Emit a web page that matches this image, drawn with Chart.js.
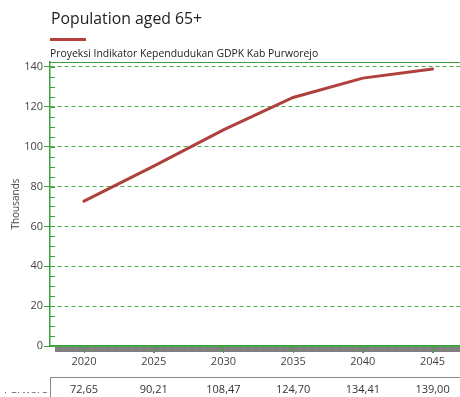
<!DOCTYPE html>
<html><head><meta charset="utf-8">
<script src="https://cdn.jsdelivr.net/npm/chart.js@4.4.1/dist/chart.umd.min.js"></script>
<style>
html,body{margin:0;padding:0;background:#fff;width:460px;height:397px;overflow:hidden;font-family:"Open Sans",sans-serif;}
#wrap{position:absolute;left:0;top:0;width:460px;height:397px;}
.t{position:absolute;white-space:nowrap;color:#333;}
</style></head>
<body>
<div id="wrap">
<canvas id="c" width="460" height="397"></canvas>
<div class="t" id="title" style="left:51px;top:7px;font-size:15.8px;color:#222;">Population aged 65+</div>
<div style="position:absolute;left:50px;top:38px;width:36px;height:3px;background:#b5403c;"></div>
<div class="t" id="sub" style="left:50px;top:46px;font-size:10.4px;color:#222;">Proyeksi Indikator Kependudukan GDPK Kab Purworejo</div>
<div style="position:absolute;left:0;top:392px;width:47px;height:5px;overflow:hidden;">
<div class="t" style="left:4px;top:-11px;font-size:11px;line-height:15px;color:#555;">Purworejo</div></div>
</div>
<script>
const years = [2020, 2025, 2030, 2035, 2040, 2045];
const population = [72.65, 90.21, 108.47, 124.70, 134.41, 139.00];
const tableLabels = ["72,65", "90,21", "108,47", "124,70", "134,41", "139,00"];
const yTicks = [0, 20, 40, 60, 80, 100, 120, 140];

const GREEN = "rgb(60,160,60)";
const extras = {
  id: "extras",
  afterDraw(chart) {
    const ctx = chart.ctx, a = chart.chartArea;
    const xs = chart.scales.x, ys = chart.scales.y;
    ctx.save();
    ctx.setLineDash([]);
    ctx.strokeStyle = GREEN; ctx.lineWidth = 1.2;
    ctx.beginPath(); ctx.moveTo(a.left, a.top + 0.5); ctx.lineTo(a.right, a.top + 0.5); ctx.stroke();
    ctx.lineWidth = 1;
    for (let v = 5; v < 142; v += 5) {
      const y = Math.round(ys.getPixelForValue(v)) + 0.5;
      ctx.beginPath(); ctx.moveTo(a.left, y); ctx.lineTo(a.left + 5, y); ctx.stroke();
    }
    ctx.fillStyle = "#808080";
    ctx.fillRect(a.left + 5, a.bottom + 1, a.right - a.left - 5, 5);
    ctx.strokeStyle = GREEN;
    years.forEach(yr => {
      const x = Math.round(xs.getPixelForValue(yr)) + 0.5;
      ctx.beginPath(); ctx.moveTo(x, a.bottom); ctx.lineTo(x, a.bottom + 7); ctx.stroke();
    });
    ctx.lineWidth = 1.5;
    ctx.beginPath(); ctx.moveTo(a.left, a.bottom); ctx.lineTo(a.right, a.bottom); ctx.stroke();
    ctx.strokeStyle = "#8a8a8a"; ctx.lineWidth = 1;
    ctx.beginPath(); ctx.moveTo(a.left + 0.5, 397); ctx.lineTo(a.left + 0.5, 377.5); ctx.lineTo(460, 377.5); ctx.stroke();
    ctx.fillStyle = "#333"; ctx.font = "11px 'Open Sans'"; ctx.textAlign = "center"; ctx.textBaseline = "middle";
    years.forEach((yr, i) => ctx.fillText(tableLabels[i], xs.getPixelForValue(yr), 390));
    ctx.restore();
  }
};

new Chart(document.getElementById("c"), {
  type: "line",
  data: {
    datasets: [{
      data: years.map((y, i) => ({ x: y, y: population[i] })),
      borderColor: "#b0403c",
      borderWidth: 3,
      pointRadius: 0,
      tension: 0,
      borderCapStyle: "round"
    }]
  },
  options: {
    responsive: false,
    animation: false,
    layout: { padding: { top: 62, right: 0, left: 0, bottom: 0 } },
    plugins: { legend: { display: false }, tooltip: { enabled: false } },
    scales: {
      x: {
        type: "linear", min: 2017.56, max: 2046.97,
        afterBuildTicks: s => { s.ticks = years.map(v => ({ value: v })); },
        afterFit: s => { s.height = 51; },
        grid: { drawOnChartArea: false, drawTicks: true, tickLength: 7, color: GREEN, tickColor: GREEN },
        border: { display: true, color: GREEN, width: 1.5 },
        ticks: { color: "#444", font: { family: "Open Sans", size: 11 }, padding: 2, callback: v => String(v), maxRotation: 0 }
      },
      y: {
        min: 0, max: 142.5,
        afterBuildTicks: s => { s.ticks = yTicks.map(v => ({ value: v })); },
        afterFit: s => { s.width = 50; },
        grid: { color: "rgb(70,175,70)", lineWidth: 1, tickLength: 6, tickColor: GREEN, tickBorderDash: [] },
        border: { display: true, color: GREEN, width: 1.5, dash: [4, 3] },
        ticks: { color: "#444", font: { family: "Open Sans", size: 11 }, padding: 1 },
        title: { display: true, text: "Thousands", color: "#444", font: { family: "Open Sans", size: 10 }, padding: { top: 10, bottom: 0 } }
      }
    }
  },
  plugins: [extras]
});
</script>
</body></html>
